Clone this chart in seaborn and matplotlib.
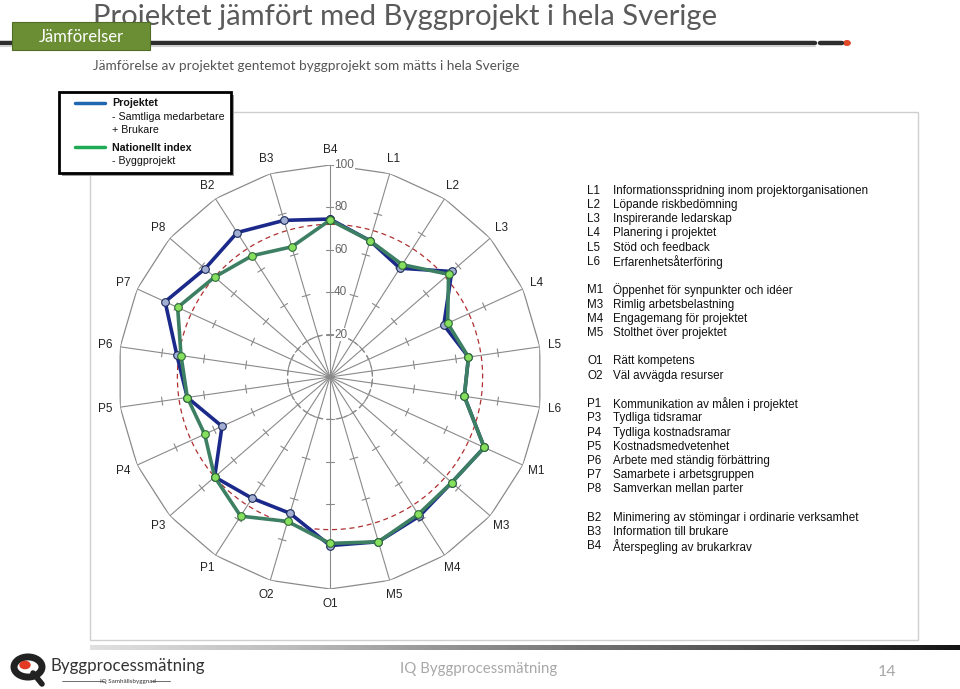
import numpy as np
import pandas as pd
import seaborn as sns
import matplotlib.pyplot as plt
from matplotlib.patches import Rectangle, Circle
from matplotlib.lines import Line2D

# spoke order, clockwise from the top
axes_labels = ["B4", "L1", "L2", "L3", "L4", "L5", "L6", "M1", "M3", "M4", "M5",
               "O1", "O2", "P1", "P3", "P4", "P5", "P6", "P7", "P8", "B2", "B3"]
projektet = [74.5, 67, 61, 76, 59, 66, 64, 80, 76, 78, 81,
             79.5, 67, 68, 72, 56, 68, 73, 85.5, 78, 81, 77]
nationellt = [74, 67, 63, 74, 61, 66, 64, 80, 76, 77, 81,
              78.5, 71, 78, 72, 65, 68, 71, 79, 72, 68, 64]
ring_ticks = [20, 40, 60, 80, 100]
ref_level = 72

codes = ["L1", "L2", "L3", "L4", "L5", "L6", None,
         "M1", "M3", "M4", "M5", None,
         "O1", "O2", None,
         "P1", "P3", "P4", "P5", "P6", "P7", "P8", None,
         "B2", "B3", "B4"]
descriptions = ["Informationsspridning inom projektorganisationen", "Löpande riskbedömning",
                "Inspirerande ledarskap", "Planering i projektet", "Stöd och feedback",
                "Erfarenhetsåterföring", None,
                "Öppenhet för synpunkter och idéer", "Rimlig arbetsbelastning",
                "Engagemang för projektet", "Stolthet över projektet", None,
                "Rätt kompetens", "Väl avvägda resurser", None,
                "Kommunikation av målen i projektet", "Tydliga tidsramar", "Tydliga kostnadsramar",
                "Kostnadsmedvetenhet", "Arbete med ständig förbättring", "Samarbete i arbetsgruppen",
                "Samverkan mellan parter", None,
                "Minimering av stömingar i ordinarie verksamhet", "Information till brukare",
                "Återspegling av brukarkrav"]

W, H = 960, 689
sns.set_theme(style="white")
plt.rcParams["font.family"] = ["Liberation Sans", "DejaVu Sans"]

fig = plt.figure(figsize=(W / 100, H / 100), dpi=100)
fig.patch.set_facecolor("white")


def px(x, y):
    return x / W, 1 - y / H


# ---- slide header ----
slide_font = ["Lato", "DejaVu Sans"]
fig.text(*px(93, 25), "Projektet jämfört med Byggprojekt i hela Sverige", fontsize=21.1,
         color="#5a5a5a", family=slide_font, va="baseline", ha="left")
fig.add_artist(Line2D([0, 815 / W], [1 - 43 / H] * 2, color="#2e2e2e", lw=3.2))
fig.add_artist(Line2D([0, 815 / W], [1 - 46 / H] * 2, color="#d0d0d0", lw=0.8))
fig.add_artist(Line2D([820 / W, 842 / W], [1 - 43 / H] * 2, color="#2e2e2e", lw=3.2))
fig.add_artist(Circle(px(847, 43), 3.2 / W, color="#e04a2a", transform=fig.transFigure))
box = Rectangle(px(12, 50), 138 / W, 28 / H, facecolor="#6b8e35", edgecolor="#4f6d25",
                lw=0.8, transform=fig.transFigure)
box.set_zorder(5)
fig.add_artist(box)
fig.text(*px(81, 37), "Jämförelser", color="white", fontsize=12, family=slide_font,
         ha="center", va="center", zorder=6)
fig.text(*px(93, 70), "Jämförelse av projektet gentemot byggprojekt som mätts i hela Sverige",
         fontsize=9.8, color="#555555", family=slide_font, va="baseline")

# chart frame
fig.add_artist(Rectangle(px(90, 640), 828 / W, 528 / H, fill=False, edgecolor="#cfcfcf",
                         lw=1, transform=fig.transFigure))

# ---- radar ----
cx, cy, R = 330, 377, 212
ax = fig.add_axes([(cx - R) / W, (H - cy - R) / H, 2 * R / W, 2 * R / H], projection="polar")
ax.set_theta_zero_location("N")
ax.set_theta_direction(-1)
ax.set_ylim(0, 100)
ax.grid(False)
ax.set_xticks([])
ax.set_yticks([])
ax.spines["polar"].set_visible(False)
ax.patch.set_alpha(0)

n = len(axes_labels)
theta = np.arange(n) * 2 * np.pi / n
theta_c = np.append(theta, 2 * np.pi)
grid_col = "#8a8a8a"

for th in theta:
    ax.plot([th, th], [0, 100], color=grid_col, lw=0.8, zorder=1)
ax.plot(theta_c, [100] * (n + 1), color=grid_col, lw=0.9, zorder=1)

half = 1.9
for th in theta:
    for r in ring_ticks[:-1]:
        d = np.arctan(half / r)
        rr = np.hypot(r, half)
        ax.plot([th - d, th + d], [rr, rr], color=grid_col, lw=0.8, zorder=1)

circ = np.linspace(0, 2 * np.pi, 300)
ax.plot(circ, [ring_ticks[0]] * len(circ), color=grid_col, lw=0.9, ls=(0, (4, 3)), zorder=1)
ax.plot(circ, [ref_level] * len(circ), color="#b03030", lw=0.9, ls=(0, (4, 3)), zorder=2)

for r in ring_ticks:
    ax.annotate(str(r), (0, r), xytext=(3, 0), textcoords="offset points", ha="left",
                va="center", fontsize=8.5, color="#666666", zorder=3,
                bbox=dict(facecolor="white", edgecolor="none", pad=0.3))

for th, lab in zip(theta, axes_labels):
    ax.text(th, 107, lab, ha="center", va="center", fontsize=8.5, color="#222222")

df = pd.DataFrame({
    "theta": np.concatenate([theta_c, theta_c]),
    "value": projektet + projektet[:1] + nationellt + nationellt[:1],
    "serie": ["Projektet"] * (n + 1) + ["Nationellt"] * (n + 1),
})
sns.lineplot(data=df[df.serie == "Projektet"], x="theta", y="value", ax=ax, sort=False,
             color="#1b2a8a", lw=2.6, marker="o", markersize=5.5, markerfacecolor="#a3aed3",
             markeredgecolor="#1b2a5a", markeredgewidth=0.8, zorder=4, legend=False)
sns.lineplot(data=df[df.serie == "Nationellt"], x="theta", y="value", ax=ax, sort=False,
             color="#3d7f62", lw=2.6, marker="o", markersize=5.5, markerfacecolor="#86e05e",
             markeredgecolor="#2f6a3a", markeredgewidth=0.8, zorder=5, legend=False)
ax.set_xlabel("")
ax.set_ylabel("")
ax.set_ylim(0, 100)

# ---- legend box ----
fig.add_artist(Rectangle(px(62, 176), 172 / W, 81 / H, facecolor="#9a9a9a", edgecolor="none",
                         transform=fig.transFigure, zorder=9))
fig.add_artist(Rectangle(px(59, 173), 172 / W, 81 / H, facecolor="white", edgecolor="black",
                         lw=2, transform=fig.transFigure, zorder=10))
fig.add_artist(Line2D([75 / W, 105 / W], [1 - 103 / H] * 2, color="#2166b0", lw=2.5, zorder=11))
fig.add_artist(Line2D([75 / W, 105 / W], [1 - 147 / H] * 2, color="#1faa55", lw=2.5, zorder=11))
leg_rows = [(103, "Projektet", "bold"), (117, "- Samtliga medarbetare", "normal"),
            (130, "+ Brukare", "normal"), (148, "Nationellt index", "bold"),
            (161, "- Byggprojekt", "normal")]
for y, t, w in leg_rows:
    fig.text(*px(112, y), t, fontsize=7.7, weight=w, va="center", color="#111111", zorder=11)

# ---- code list ----
y = 191
for c, d in zip(codes, descriptions):
    if c is None:
        y += 14.5
        continue
    fig.text(*px(587, y), c, fontsize=8.4, va="center", color="#111111")
    fig.text(*px(613, y), d, fontsize=8.4, va="center", color="#111111")
    y += 14.15

# ---- footer ----
grad = fig.add_axes([90 / W, 1 - 650 / H, 870 / W, 5 / H])
grad.imshow(np.linspace(0, 1, 256)[None, :], aspect="auto", cmap="Greys", vmin=-0.3, vmax=1.1)
grad.axis("off")
fig.add_artist(Circle(px(28, 667), 14 / W, facecolor="white", edgecolor="#222222", lw=5,
                      transform=fig.transFigure))
fig.add_artist(Line2D([33 / W, 42 / W], [1 - 673 / H, 1 - 684 / H], color="#222222", lw=4))
fig.add_artist(Circle(px(25, 665), 5 / W, color="#e23a22", transform=fig.transFigure))
fig.text(*px(51, 666), "Byggprocessmätning", fontsize=12.2, color="#333333", family=slide_font,
         va="center")
fig.text(*px(128, 681), "IQ Samhällsbyggnad", fontsize=4.5, color="#333333", family=slide_font,
         va="center", ha="center")
fig.add_artist(Line2D([62 / W, 104 / W], [1 - 681 / H] * 2, color="#555555", lw=0.6))
fig.add_artist(Line2D([152 / W, 170 / W], [1 - 681 / H] * 2, color="#555555", lw=0.6))
fig.text(*px(400, 669), "IQ Byggprocessmätning", fontsize=10.8, color="#a8a8a8",
         family=slide_font, va="center")
fig.text(*px(878, 672), "14", fontsize=11.5, color="#a8a8a8", family=slide_font, va="center")

fig.savefig("out.png", dpi=100)
